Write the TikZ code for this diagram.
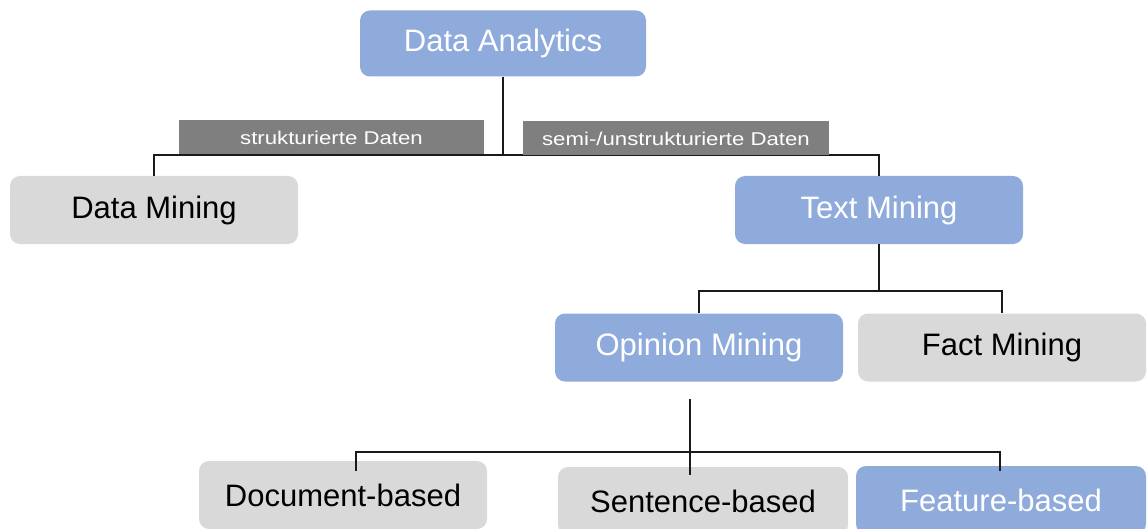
\documentclass[tikz,border=0pt]{standalone}
\usepackage{fontspec}
\setmainfont{Liberation Sans}
\definecolor{boxblue}{HTML}{8FABDC}
\definecolor{boxgray}{HTML}{D9D9D9}
\definecolor{tagbg}{HTML}{7F7F7F}
\definecolor{wire}{HTML}{1A1A1A}
\tikzset{
  box/.style={rounded corners=10pt, inner sep=0pt, minimum width=288pt, minimum height=68pt,
    font=\fontsize{31}{36}\selectfont},
  bluebox/.style={box, fill=boxblue, text=white},
  graybox/.style={box, fill=boxgray, text=black},
  tag/.style={fill=tagbg, text=white, inner sep=0pt, minimum height=34pt,
    font=\fontsize{18.5}{22}\selectfont},
  wire/.style={draw=wire, line width=1.2pt}
}
\begin{document}
\begin{tikzpicture}[x=1pt, y=-1pt]
\useasboundingbox (0,0) rectangle (1147,529);
\clip (0,0) rectangle (1147,529);

% boxes
\node[bluebox, minimum width=286pt, minimum height=66pt] (da) at (503,43.5) {Data Analytics};
\node[graybox] (dm) at (154,210) {Data Mining};
\node[bluebox] (tm) at (879,210) {Text Mining};
\node[bluebox] (om) at (699,347.5) {Opinion Mining};
\node[graybox] (fm) at (1002,347.5) {Fact Mining};
\node[graybox] (db) at (343,495) {Document-based};
\node[graybox, minimum width=290pt] (sb) at (703,501) {Sentence-based};
\node[bluebox, minimum width=290pt] (fb) at (1001,500) {Feature-based};

% first level
\coordinate (j1) at (503,155);
\draw[wire] (da.south) -- (j1);
\draw[wire] (dm.north) |- (j1) -| (tm.north);

% second level
\coordinate (j2) at (879,291);
\draw[wire] (tm.south) -- (j2);
\draw[wire] (om.north) |- (j2) -| (fm.north);

% third level
\coordinate (j3top) at (690,399);
\coordinate (j3) at (690,452);
\coordinate (dbin) at (356,471);
\coordinate (sbin) at (690,475);
\coordinate (fbin) at (1000,471);
\draw[wire] (j3top) -- (sbin);
\draw[wire] (dbin) |- (j3) -| (fbin);

% branch labels
\node[tag, minimum width=305pt] (lab1) at (331.5,137.5) {\scalebox{1.2}[1]{strukturierte Daten}};
\node[tag, minimum width=306pt] (lab2) at (676,138.5) {\scalebox{1.2}[1]{semi-/unstrukturierte Daten}};
\end{tikzpicture}
\end{document}
